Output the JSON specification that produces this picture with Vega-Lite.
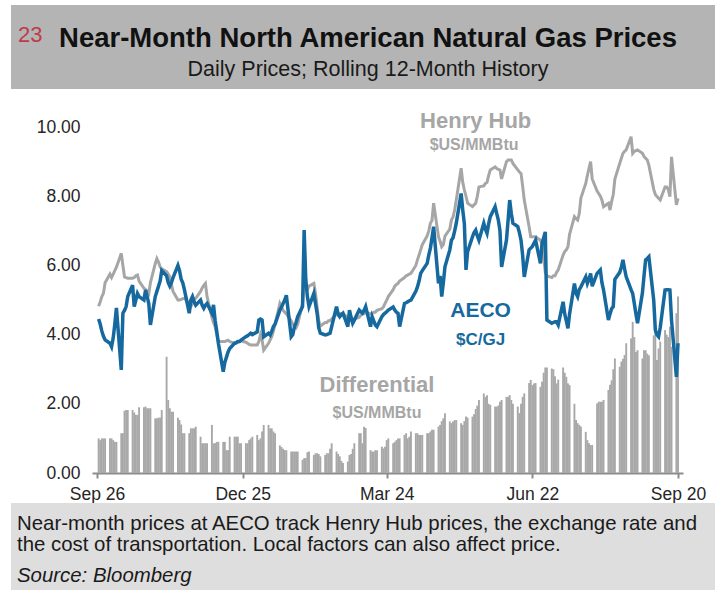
{
  "$schema": "https://vega.github.io/schema/vega-lite/v6.json",
  "background": "white",
  "padding": {"left": 11, "top": 5, "right": 0, "bottom": 0},
  "spacing": 0,
  "config": {
    "view": {"stroke": null},
    "font": "Liberation Sans",
    "text": {"font": "Liberation Sans"},
    "axis": {"labelFont": "Liberation Sans"}
  },
  "datasets": {
    "gas": [
      {"d":"2021-09-27","h":4.82,"a":4.45,"f":1.0},{"d":"2021-09-28","h":4.95,"a":4.3,"f":0.95},{"d":"2021-09-29","h":5.1,"a":4.1,"f":1.0},{"d":"2021-09-30","h":5.2,"a":3.95,"f":1.0},{"d":"2021-10-01","h":5.5,"a":3.85,"f":1.0},
      {"d":"2021-10-04","h":5.75,"a":3.75,"f":1.0},{"d":"2021-10-05","h":5.65,"a":3.65,"f":1.0},{"d":"2021-10-06","h":5.75,"a":3.9,"f":0.95},{"d":"2021-10-07","h":5.85,"a":4.3,"f":0.9},{"d":"2021-10-08","h":5.95,"a":4.77,"f":0.9},
      {"d":"2021-10-11","h":6.35,"a":2.98,"f":1.15},{"d":"2021-10-12","h":6.0,"a":4.62,"f":1.15},{"d":"2021-10-13","h":5.67,"a":4.7,"f":1.8},{"d":"2021-10-14","h":5.65,"a":4.81,"f":1.82},{"d":"2021-10-15","h":5.63,"a":5.1,"f":1.82},
      {"d":"2021-10-18","h":5.63,"a":5.43,"f":1.82},{"d":"2021-10-19","h":5.65,"a":4.81,"f":1.75},{"d":"2021-10-20","h":5.7,"a":5.0,"f":1.68},{"d":"2021-10-21","h":5.72,"a":5.19,"f":1.68},{"d":"2021-10-22","h":5.55,"a":5.1,"f":1.9},
      {"d":"2021-10-25","h":5.34,"a":5.0,"f":1.9},{"d":"2021-10-26","h":5.3,"a":5.29,"f":1.92},{"d":"2021-10-27","h":5.25,"a":5.1,"f":1.87},{"d":"2021-10-28","h":5.19,"a":4.9,"f":1.87},{"d":"2021-10-29","h":5.5,"a":4.28,"f":1.87},
      {"d":"2021-11-01","h":6.05,"a":5.1,"f":1.58},{"d":"2021-11-02","h":6.2,"a":5.25,"f":1.58},{"d":"2021-11-03","h":6.1,"a":5.4,"f":1.6},{"d":"2021-11-04","h":5.96,"a":5.55,"f":1.6},{"d":"2021-11-05","h":5.9,"a":5.85,"f":1.82},
      {"d":"2021-11-08","h":5.82,"a":5.7,"f":3.36},{"d":"2021-11-09","h":5.75,"a":5.5,"f":2.11},{"d":"2021-11-10","h":5.67,"a":5.4,"f":1.87},{"d":"2021-11-11","h":5.45,"a":5.5,"f":1.77},{"d":"2021-11-12","h":5.25,"a":5.65,"f":1.77},
      {"d":"2021-11-15","h":5.0,"a":6.0,"f":1.6},{"d":"2021-11-16","h":5.0,"a":5.85,"f":1.53},{"d":"2021-11-17","h":5.02,"a":5.6,"f":1.4},{"d":"2021-11-18","h":5.04,"a":5.5,"f":1.15},{"d":"2021-11-19","h":5.05,"a":5.3,"f":1.15},
      {"d":"2021-11-22","h":4.9,"a":4.62,"f":1.15},{"d":"2021-11-23","h":4.81,"a":5.0,"f":1.29},{"d":"2021-11-24","h":4.9,"a":5.1,"f":1.29},{"d":"2021-11-25","h":5.0,"a":4.95,"f":1.29},{"d":"2021-11-26","h":5.05,"a":4.85,"f":1.34},
      {"d":"2021-11-29","h":5.25,"a":5.0,"f":1.05},{"d":"2021-11-30","h":5.35,"a":4.85,"f":0.86},{"d":"2021-12-01","h":5.42,"a":4.76,"f":0.86},{"d":"2021-12-02","h":5.48,"a":4.85,"f":0.86},{"d":"2021-12-03","h":5.1,"a":4.9,"f":0.86},
      {"d":"2021-12-06","h":4.5,"a":4.62,"f":1.39},{"d":"2021-12-07","h":4.35,"a":4.86,"f":0.86},{"d":"2021-12-08","h":4.23,"a":4.4,"f":0.86},{"d":"2021-12-09","h":4.0,"a":4.1,"f":0.9},{"d":"2021-12-10","h":3.8,"a":3.75,"f":0.9},
      {"d":"2021-12-13","h":3.8,"a":2.93,"f":0.9},{"d":"2021-12-14","h":3.8,"a":3.2,"f":0.9},{"d":"2021-12-15","h":3.82,"a":3.35,"f":0.66},{"d":"2021-12-16","h":3.84,"a":3.5,"f":0.66},{"d":"2021-12-17","h":3.8,"a":3.6,"f":1.05},
      {"d":"2021-12-20","h":3.75,"a":3.75,"f":1.05},{"d":"2021-12-21","h":3.75,"a":3.77,"f":1.05},{"d":"2021-12-22","h":3.78,"a":3.8,"f":1.05},{"d":"2021-12-23","h":3.8,"a":3.8,"f":0.86},{"d":"2021-12-24","h":3.82,"a":3.84,"f":0.86},
      {"d":"2021-12-27","h":3.78,"a":3.94,"f":0.86},{"d":"2021-12-28","h":3.75,"a":3.97,"f":0.86},{"d":"2021-12-29","h":3.72,"a":4.0,"f":0.95},{"d":"2021-12-30","h":3.7,"a":4.04,"f":1.0},{"d":"2021-12-31","h":3.7,"a":4.0,"f":1.05},
      {"d":"2022-01-03","h":3.7,"a":4.08,"f":1.1},{"d":"2022-01-04","h":3.8,"a":4.42,"f":0.95},{"d":"2022-01-05","h":4.0,"a":4.45,"f":1.0},{"d":"2022-01-06","h":3.85,"a":4.42,"f":1.2},{"d":"2022-01-07","h":3.55,"a":3.94,"f":1.39},
      {"d":"2022-01-10","h":3.75,"a":4.04,"f":1.39},{"d":"2022-01-11","h":3.85,"a":3.99,"f":1.29},{"d":"2022-01-12","h":3.95,"a":4.1,"f":1.29},{"d":"2022-01-13","h":4.1,"a":4.23,"f":1.2},{"d":"2022-01-14","h":4.3,"a":4.3,"f":1.15},
      {"d":"2022-01-17","h":4.9,"a":4.71,"f":0.8},{"d":"2022-01-18","h":4.8,"a":4.8,"f":0.75},{"d":"2022-01-19","h":4.7,"a":4.9,"f":0.7},{"d":"2022-01-20","h":4.65,"a":5.0,"f":0.66},{"d":"2022-01-21","h":4.6,"a":5.14,"f":0.66},
      {"d":"2022-01-24","h":4.4,"a":3.94,"f":0.62},{"d":"2022-01-25","h":4.3,"a":4.0,"f":0.62},{"d":"2022-01-26","h":4.25,"a":4.23,"f":0.62},{"d":"2022-01-27","h":4.2,"a":4.35,"f":0.62},{"d":"2022-01-28","h":4.3,"a":4.52,"f":0.62},
      {"d":"2022-01-31","h":4.9,"a":4.81,"f":0.38},{"d":"2022-02-01","h":5.4,"a":7.02,"f":0.43},{"d":"2022-02-02","h":5.3,"a":5.6,"f":0.43},{"d":"2022-02-03","h":5.3,"a":5.1,"f":0.6},{"d":"2022-02-04","h":5.4,"a":4.81,"f":0.62},
      {"d":"2022-02-07","h":5.48,"a":5.19,"f":0.52},{"d":"2022-02-08","h":5.2,"a":4.9,"f":0.57},{"d":"2022-02-09","h":4.8,"a":4.62,"f":0.57},{"d":"2022-02-10","h":4.4,"a":4.2,"f":0.55},{"d":"2022-02-11","h":4.25,"a":4.04,"f":0.48},
      {"d":"2022-02-14","h":4.35,"a":3.99,"f":0.52},{"d":"2022-02-15","h":4.35,"a":4.0,"f":0.57},{"d":"2022-02-16","h":4.4,"a":4.02,"f":0.57},{"d":"2022-02-17","h":4.4,"a":4.04,"f":0.7},{"d":"2022-02-18","h":4.45,"a":4.23,"f":0.86},
      {"d":"2022-02-21","h":4.6,"a":4.81,"f":0.62},{"d":"2022-02-22","h":4.55,"a":4.6,"f":0.55},{"d":"2022-02-23","h":4.6,"a":4.52,"f":0.48},{"d":"2022-02-24","h":4.6,"a":4.58,"f":0.35},{"d":"2022-02-25","h":4.6,"a":4.62,"f":0.29},
      {"d":"2022-02-28","h":4.5,"a":4.23,"f":0.33},{"d":"2022-03-01","h":4.45,"a":4.71,"f":0.52},{"d":"2022-03-02","h":4.4,"a":4.5,"f":0.55},{"d":"2022-03-03","h":4.4,"a":4.33,"f":0.7},{"d":"2022-03-04","h":4.45,"a":4.42,"f":0.86},
      {"d":"2022-03-07","h":4.5,"a":4.71,"f":1.15},{"d":"2022-03-08","h":4.55,"a":4.66,"f":1.15},{"d":"2022-03-09","h":4.6,"a":4.62,"f":0.86},{"d":"2022-03-10","h":4.6,"a":4.7,"f":1.34},{"d":"2022-03-11","h":4.65,"a":4.81,"f":1.3},
      {"d":"2022-03-14","h":4.6,"a":4.23,"f":0.66},{"d":"2022-03-15","h":4.6,"a":4.52,"f":0.62},{"d":"2022-03-16","h":4.65,"a":4.4,"f":0.62},{"d":"2022-03-17","h":4.65,"a":4.28,"f":0.66},{"d":"2022-03-18","h":4.7,"a":4.23,"f":0.66},
      {"d":"2022-03-21","h":4.75,"a":4.52,"f":0.76},{"d":"2022-03-22","h":4.8,"a":4.58,"f":0.71},{"d":"2022-03-23","h":4.9,"a":4.62,"f":0.76},{"d":"2022-03-24","h":5.0,"a":4.66,"f":0.95},{"d":"2022-03-25","h":5.1,"a":4.71,"f":1.0},
      {"d":"2022-03-28","h":5.3,"a":4.8,"f":0.86},{"d":"2022-03-29","h":5.4,"a":4.71,"f":0.9},{"d":"2022-03-30","h":5.45,"a":4.65,"f":0.95},{"d":"2022-03-31","h":5.48,"a":4.62,"f":1.0},{"d":"2022-04-01","h":5.55,"a":4.23,"f":1.0},
      {"d":"2022-04-04","h":5.65,"a":4.9,"f":1.1},{"d":"2022-04-05","h":5.7,"a":4.92,"f":1.15},{"d":"2022-04-06","h":5.72,"a":4.95,"f":1.0},{"d":"2022-04-07","h":5.75,"a":4.98,"f":1.05},{"d":"2022-04-08","h":5.77,"a":5.0,"f":1.2},
      {"d":"2022-04-11","h":6.0,"a":5.25,"f":1.15},{"d":"2022-04-12","h":6.16,"a":5.38,"f":1.15},{"d":"2022-04-13","h":6.3,"a":5.55,"f":1.1},{"d":"2022-04-14","h":6.45,"a":5.77,"f":1.1},{"d":"2022-04-15","h":6.6,"a":5.85,"f":1.1},
      {"d":"2022-04-18","h":6.85,"a":6.06,"f":1.15},{"d":"2022-04-19","h":7.0,"a":6.3,"f":1.15},{"d":"2022-04-20","h":7.22,"a":6.5,"f":1.2},{"d":"2022-04-21","h":7.3,"a":6.8,"f":1.25},{"d":"2022-04-22","h":7.8,"a":7.12,"f":1.25},
      {"d":"2022-04-25","h":6.83,"a":5.48,"f":1.34},{"d":"2022-04-26","h":6.7,"a":5.7,"f":1.39},{"d":"2022-04-27","h":6.54,"a":5.1,"f":1.5},{"d":"2022-04-28","h":6.6,"a":5.5,"f":1.58},{"d":"2022-04-29","h":6.85,"a":5.96,"f":1.73},
      {"d":"2022-05-02","h":7.05,"a":6.45,"f":1.49},{"d":"2022-05-03","h":7.31,"a":6.73,"f":1.44},{"d":"2022-05-04","h":7.4,"a":6.8,"f":1.49},{"d":"2022-05-05","h":7.6,"a":7.0,"f":1.53},{"d":"2022-05-06","h":7.89,"a":7.22,"f":1.53},
      {"d":"2022-05-09","h":8.81,"a":8.08,"f":1.44},{"d":"2022-05-10","h":8.4,"a":7.6,"f":1.39},{"d":"2022-05-11","h":8.18,"a":7.2,"f":1.5},{"d":"2022-05-12","h":8.0,"a":5.87,"f":1.63},{"d":"2022-05-13","h":7.8,"a":6.4,"f":1.6},
      {"d":"2022-05-16","h":7.7,"a":6.83,"f":1.63},{"d":"2022-05-17","h":7.75,"a":6.95,"f":1.7},{"d":"2022-05-18","h":7.8,"a":7.02,"f":1.85},{"d":"2022-05-19","h":8.0,"a":6.85,"f":1.95},{"d":"2022-05-20","h":8.27,"a":6.73,"f":2.11},
      {"d":"2022-05-23","h":8.3,"a":7.22,"f":2.3},{"d":"2022-05-24","h":8.37,"a":7.05,"f":2.2},{"d":"2022-05-25","h":8.4,"a":6.93,"f":2.25},{"d":"2022-05-26","h":8.6,"a":7.2,"f":2.0},{"d":"2022-05-27","h":8.76,"a":7.41,"f":1.97},
      {"d":"2022-05-30","h":8.85,"a":7.7,"f":1.92},{"d":"2022-05-31","h":8.8,"a":7.5,"f":1.92},{"d":"2022-06-01","h":8.78,"a":7.31,"f":1.95},{"d":"2022-06-02","h":8.76,"a":7.0,"f":2.06},{"d":"2022-06-03","h":8.5,"a":5.96,"f":2.11},
      {"d":"2022-06-06","h":9.0,"a":6.73,"f":2.2},{"d":"2022-06-07","h":9.05,"a":7.3,"f":2.2},{"d":"2022-06-08","h":9.05,"a":7.89,"f":2.25},{"d":"2022-06-09","h":9.05,"a":7.5,"f":2.11},{"d":"2022-06-10","h":8.95,"a":7.22,"f":2.0},
      {"d":"2022-06-13","h":8.76,"a":7.12,"f":1.92},{"d":"2022-06-14","h":8.7,"a":6.95,"f":1.73},{"d":"2022-06-15","h":8.66,"a":6.73,"f":2.0},{"d":"2022-06-16","h":8.3,"a":6.3,"f":2.2},{"d":"2022-06-17","h":7.89,"a":5.67,"f":2.3},
      {"d":"2022-06-20","h":7.12,"a":6.45,"f":2.6},{"d":"2022-06-21","h":6.83,"a":6.5,"f":2.69},{"d":"2022-06-22","h":6.83,"a":6.55,"f":2.54},{"d":"2022-06-23","h":6.83,"a":6.64,"f":2.59},{"d":"2022-06-24","h":6.83,"a":6.73,"f":2.6},
      {"d":"2022-06-27","h":6.73,"a":6.06,"f":2.49},{"d":"2022-06-28","h":6.6,"a":6.64,"f":2.64},{"d":"2022-06-29","h":6.2,"a":6.8,"f":2.9},{"d":"2022-06-30","h":5.8,"a":6.97,"f":3.05},{"d":"2022-07-01","h":5.7,"a":4.42,"f":3.05},
      {"d":"2022-07-04","h":5.65,"a":4.33,"f":3.02},{"d":"2022-07-05","h":5.7,"a":4.35,"f":3.0},{"d":"2022-07-06","h":5.7,"a":4.37,"f":2.8},{"d":"2022-07-07","h":5.8,"a":4.37,"f":2.59},{"d":"2022-07-08","h":5.87,"a":4.28,"f":2.7},
      {"d":"2022-07-11","h":6.3,"a":4.95,"f":3.05},{"d":"2022-07-12","h":6.4,"a":4.6,"f":2.9},{"d":"2022-07-13","h":6.45,"a":4.4,"f":2.78},{"d":"2022-07-14","h":6.54,"a":4.18,"f":2.59},{"d":"2022-07-15","h":6.9,"a":4.6,"f":2.54},
      {"d":"2022-07-18","h":7.41,"a":5.48,"f":2.0},{"d":"2022-07-19","h":7.35,"a":5.2,"f":1.53},{"d":"2022-07-20","h":7.31,"a":5.1,"f":1.44},{"d":"2022-07-21","h":7.5,"a":5.3,"f":1.39},{"d":"2022-07-22","h":7.95,"a":5.38,"f":1.34},
      {"d":"2022-07-25","h":8.37,"a":5.67,"f":1.19},{"d":"2022-07-26","h":8.6,"a":5.48,"f":0.95},{"d":"2022-07-27","h":8.8,"a":5.6,"f":0.86},{"d":"2022-07-28","h":9.0,"a":5.77,"f":0.81},{"d":"2022-07-29","h":8.5,"a":5.4,"f":0.81},
      {"d":"2022-08-01","h":8.15,"a":5.77,"f":2.01},{"d":"2022-08-02","h":8.08,"a":5.82,"f":2.06},{"d":"2022-08-03","h":8.0,"a":5.87,"f":2.06},{"d":"2022-08-04","h":7.89,"a":5.5,"f":2.06},{"d":"2022-08-05","h":7.7,"a":5.29,"f":2.11},
      {"d":"2022-08-08","h":7.8,"a":4.42,"f":2.4},{"d":"2022-08-09","h":7.6,"a":4.6,"f":2.55},{"d":"2022-08-10","h":7.85,"a":4.75,"f":2.68},{"d":"2022-08-11","h":8.05,"a":4.81,"f":3.0},{"d":"2022-08-12","h":8.5,"a":5.6,"f":3.31},
      {"d":"2022-08-15","h":8.95,"a":5.8,"f":3.07},{"d":"2022-08-16","h":9.1,"a":5.95,"f":3.22},{"d":"2022-08-17","h":9.24,"a":6.16,"f":3.3},{"d":"2022-08-18","h":9.3,"a":5.9,"f":3.41},{"d":"2022-08-19","h":9.34,"a":5.67,"f":3.75},
      {"d":"2022-08-22","h":9.72,"a":5.3,"f":3.89},{"d":"2022-08-23","h":9.24,"a":5.19,"f":4.37},{"d":"2022-08-24","h":9.3,"a":4.9,"f":3.93},{"d":"2022-08-25","h":9.32,"a":4.6,"f":3.5},{"d":"2022-08-26","h":9.34,"a":4.33,"f":3.55},
      {"d":"2022-08-29","h":9.24,"a":5.2,"f":3.31},{"d":"2022-08-30","h":9.15,"a":5.7,"f":3.55},{"d":"2022-08-31","h":9.1,"a":6.16,"f":3.55},{"d":"2022-09-01","h":9.05,"a":6.2,"f":3.45},{"d":"2022-09-02","h":8.9,"a":6.25,"f":3.4},
      {"d":"2022-09-05","h":8.2,"a":5.0,"f":3.98},{"d":"2022-09-06","h":8.05,"a":4.13,"f":4.12},{"d":"2022-09-07","h":7.99,"a":4.0,"f":3.27},{"d":"2022-09-08","h":7.94,"a":3.94,"f":3.6},{"d":"2022-09-09","h":7.89,"a":4.2,"f":3.8},
      {"d":"2022-09-12","h":8.27,"a":5.29,"f":4.13},{"d":"2022-09-13","h":8.27,"a":5.3,"f":4.0},{"d":"2022-09-14","h":8.2,"a":5.3,"f":3.93},{"d":"2022-09-15","h":7.99,"a":5.29,"f":4.23},{"d":"2022-09-16","h":9.14,"a":4.42,"f":3.65},
      {"d":"2022-09-19","h":7.75,"a":2.78,"f":4.62},{"d":"2022-09-20","h":7.94,"a":3.75,"f":5.1}
    ]
  },
  "vconcat": [
    {
      "width": 704,
      "height": 84,
      "view": {"fill": "#b4b4b4", "stroke": null},
      "data": {"values": [{}]},
      "layer": [
        {"mark": {"type": "text", "text": "23", "font": "Liberation Sans", "fontSize": 22, "color": "#be3b4a", "align": "left", "baseline": "alphabetic"},
         "encoding": {"x": {"value": 7}, "y": {"value": 37}}},
        {"mark": {"type": "text", "text": "Near-Month North American Natural Gas Prices", "font": "Liberation Sans", "fontSize": 27.5, "fontWeight": "bold", "color": "#111111", "align": "center", "baseline": "alphabetic"},
         "encoding": {"x": {"value": 357}, "y": {"value": 42}}},
        {"mark": {"type": "text", "text": "Daily Prices; Rolling 12-Month History", "font": "Liberation Sans", "fontSize": 21.5, "color": "#1a1a1a", "align": "center", "baseline": "alphabetic"},
         "encoding": {"x": {"value": 357}, "y": {"value": 71}}}
      ]
    },
    {
      "width": 704,
      "height": 384,
      "data": {"name": "gas"},
      "layer": [
        {
          "mark": {"type": "bar", "width": 1.9, "color": "#a8a8a8"},
          "encoding": {
            "x": {"field": "d", "type": "temporal", "title": null,
              "scale": {"domain": [{"year": 2021, "month": 9, "date": 26}, {"year": 2022, "month": 9, "date": 20}], "range": [81, 672]},
              "axis": {"values": [{"year": 2021, "month": 9, "date": 26}, {"year": 2021, "month": 12, "date": 25}, {"year": 2022, "month": 3, "date": 24}, {"year": 2022, "month": 6, "date": 22}, {"year": 2022, "month": 9, "date": 20}],
                "format": "%b %d", "labelFontSize": 17.5, "labelColor": "#262626", "domainColor": "#8c8c8c", "domainWidth": 2, "tickColor": "#8c8c8c", "tickWidth": 2, "tickSize": 5, "grid": false, "labelPadding": 7, "labelFlush": false, "labelOverlap": false}},
            "y": {"field": "f", "type": "quantitative", "title": null,
              "scale": {"domain": [0, 11.1], "nice": false},
              "axis": {"values": [0, 2, 4, 6, 8, 10], "format": ".2f", "labelFontSize": 17.5, "labelColor": "#262626", "domain": false, "ticks": false, "grid": false, "labelPadding": 12, "offset": -81}}
          }
        },
        {
          "mark": {"type": "line", "color": "#a6a6a6", "strokeWidth": 3},
          "encoding": {
            "x": {"field": "d", "type": "temporal", "title": null},
            "y": {"field": "h", "type": "quantitative", "title": null}
          }
        },
        {
          "mark": {"type": "line", "color": "#16699f", "strokeWidth": 3.5},
          "encoding": {
            "x": {"field": "d", "type": "temporal", "title": null},
            "y": {"field": "a", "type": "quantitative", "title": null}
          }
        },
        {
          "data": {"values": [{}]},
          "mark": {"type": "text", "text": "Henry Hub", "fontSize": 22, "fontWeight": "bold", "color": "#a6a6a6", "align": "center", "baseline": "alphabetic"},
          "encoding": {"x": {"datum": {"year": 2022, "month": 5, "date": 18}, "type": "temporal", "title": null}, "y": {"datum": 9.97, "type": "quantitative", "title": null}}
        },
        {
          "data": {"values": [{}]},
          "mark": {"type": "text", "text": "$US/MMBtu", "fontSize": 16, "fontWeight": "bold", "color": "#a6a6a6", "align": "center", "baseline": "alphabetic"},
          "encoding": {"x": {"datum": {"year": 2022, "month": 5, "date": 17}, "type": "temporal", "title": null}, "y": {"datum": 9.34, "type": "quantitative", "title": null}}
        },
        {
          "data": {"values": [{}]},
          "mark": {"type": "text", "text": "AECO", "fontSize": 21, "fontWeight": "bold", "color": "#16699f", "align": "center", "baseline": "alphabetic"},
          "encoding": {"x": {"datum": {"year": 2022, "month": 5, "date": 21}, "type": "temporal", "title": null}, "y": {"datum": 4.51, "type": "quantitative", "title": null}}
        },
        {
          "data": {"values": [{}]},
          "mark": {"type": "text", "text": "$C/GJ", "fontSize": 17, "fontWeight": "bold", "color": "#16699f", "align": "center", "baseline": "alphabetic"},
          "encoding": {"x": {"datum": {"year": 2022, "month": 5, "date": 21}, "type": "temporal", "title": null}, "y": {"datum": 3.7, "type": "quantitative", "title": null}}
        },
        {
          "data": {"values": [{}]},
          "mark": {"type": "text", "text": "Differential", "fontSize": 22, "fontWeight": "bold", "color": "#a6a6a6", "align": "center", "baseline": "alphabetic"},
          "encoding": {"x": {"datum": {"year": 2022, "month": 3, "date": 18}, "type": "temporal", "title": null}, "y": {"datum": 2.34, "type": "quantitative", "title": null}}
        },
        {
          "data": {"values": [{}]},
          "mark": {"type": "text", "text": "$US/MMBtu", "fontSize": 16, "fontWeight": "bold", "color": "#a6a6a6", "align": "center", "baseline": "alphabetic"},
          "encoding": {"x": {"datum": {"year": 2022, "month": 3, "date": 18}, "type": "temporal", "title": null}, "y": {"datum": 1.59, "type": "quantitative", "title": null}}
        }
      ]
    },
    {
      "width": 704,
      "height": 87,
      "view": {"fill": "#dedede", "stroke": null},
      "data": {"values": [{}]},
      "layer": [
        {"mark": {"type": "text", "text": "Near-month prices at AECO track Henry Hub prices, the exchange rate and", "fontSize": 20.4, "color": "#1a1a1a", "align": "left", "baseline": "alphabetic"},
         "encoding": {"x": {"value": 6}, "y": {"value": 27}}},
        {"mark": {"type": "text", "text": "the cost of transportation. Local factors can also affect price.", "fontSize": 20.4, "color": "#1a1a1a", "align": "left", "baseline": "alphabetic"},
         "encoding": {"x": {"value": 6}, "y": {"value": 47.5}}},
        {"mark": {"type": "text", "text": "Source: Bloomberg", "fontSize": 20.4, "fontStyle": "italic", "color": "#1a1a1a", "align": "left", "baseline": "alphabetic"},
         "encoding": {"x": {"value": 6}, "y": {"value": 79}}}
      ]
    }
  ]
}
